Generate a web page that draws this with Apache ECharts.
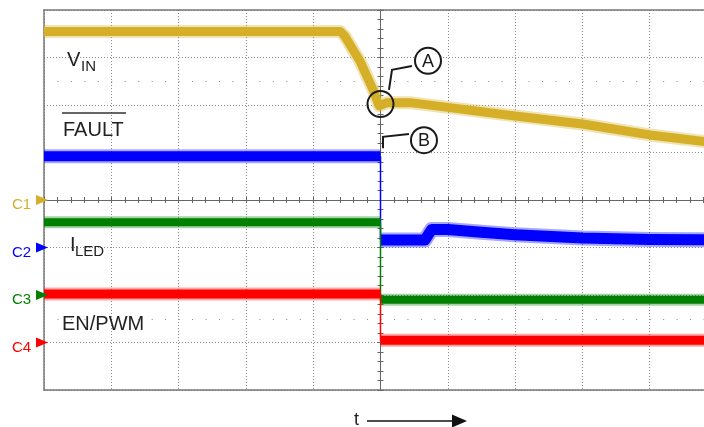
<!DOCTYPE html>
<html><head><meta charset="utf-8">
<script src="https://cdn.jsdelivr.net/npm/echarts@6/dist/echarts.min.js"></script>
<style>html,body{margin:0;padding:0;background:#fff}#c{width:704px;height:427px}</style>
</head><body><div id="c"></div>
<script>
// Time in divisions (center = 0), amplitude in divisions (center = 0)
const vinTrace = [[-5,3.55],[-0.6,3.55],[-0.53,3.45],[-0.3,2.91],[-0.11,2.32],[-0.02,1.98],[0.1,2.05],[0.44,2.05],[1,1.95],[2,1.77],[3,1.6],[4,1.37],[5,1.2]];
const faultBefore = [[-5,0.92],[0,0.92]];
const faultEdge = [[0,0.92],[0,-0.84]];
const faultAfter = [[0,-0.84],[0.66,-0.84],[0.76,-0.62],[1,-0.62],[1.5,-0.68],[2,-0.73],[3,-0.8],[4,-0.83],[5,-0.84]];
const ledBefore = [[-5,-0.47],[0,-0.47]];
const ledEdge = [[0,-0.47],[0,-2.1]];
const ledAfter = [[0,-2.1],[5,-2.1]];
const enBefore = [[-5,-1.98],[0,-1.98]];
const enEdge = [[0,-1.98],[0,-2.95]];
const enAfter = [[0,-2.95],[5,-2.95]];
const channelNames = ['C1','C2','C3','C4'];
const channelLevels = [0,-1,-2,-3];
const channelColors = ['#D4AF27','#0000FF','#008000','#FF0000'];
const midRows = [2.5,-2.5];
const xMin = -5, xMax = 4.807; // the screen capture is cut at the right edge

const chart = echarts.init(document.getElementById('c'));
const tickStyle = {color:'#666', width:1};
const frameStyle = {color:'#777', width:1.5};
function trace(name, data, color, w, layer) {
  return [
    {type:'line', name:name+'_fuzz', data:data, showSymbol:false, symbol:'none', silent:true, animation:false,
     lineStyle:{color:color, width:w+4, opacity:0.35, cap:'butt', join:'round'}, z:3+layer},
    {type:'line', name:name, data:data, showSymbol:false, symbol:'none', silent:true, animation:false,
     lineStyle:{color:color, width:w, cap:'butt', join:'round'}, z:3+layer}
  ];
}
function edge(data, color, layer) {
  return {type:'line', data:data, showSymbol:false, symbol:'none', silent:true, animation:false,
    lineStyle:{color:color, width:1.5}, z:3+layer};
}
const series = [].concat(
  [{type:'line', data:[], silent:true, animation:false, z:1,
    markLine:{silent:true, symbol:'none', animation:false, label:{show:false},
      lineStyle:{color:'#888', type:[1,12.46], width:1},
      data: midRows.map(v=>({yAxis:v}))}}],
  trace('VIN', vinTrace, channelColors[0], 9, 0),
  trace('FAULT1', faultBefore, channelColors[1], 10, 1),
  [edge(faultEdge, channelColors[1], 1)],
  trace('FAULT2', faultAfter, channelColors[1], 11, 1),
  trace('ILED1', ledBefore, channelColors[2], 8, 2),
  [edge(ledEdge, channelColors[2], 2)],
  trace('ILED2', ledAfter, channelColors[2], 8, 2),
  trace('EN1', enBefore, channelColors[3], 9, 3),
  [edge(enEdge, channelColors[3], 3)],
  trace('EN2', enAfter, channelColors[3], 9, 3)
);
const centerAxis = (pos, min, max) => ({type:'value', min:min, max:max, interval:1, position:pos,
  axisLine:{show:true, onZero:true, lineStyle:tickStyle},
  axisTick:{show:true, length:3, lineStyle:tickStyle},
  minorTick:{show:true, splitNumber:5, length:3, lineStyle:tickStyle},
  axisLabel:{show:false}, splitLine:{show:false}});
const frameAxis = (pos, min, max) => ({type:'value', min:min, max:max, interval:1, position:pos,
  axisLine:{show:true, onZero:false, lineStyle:frameStyle},
  axisTick:{show:false}, axisLabel:{show:false}, splitLine:{show:false}});
const gridSplit = {show:true, lineStyle:{color:'#8a8a8a', type:[1,2], width:1}};
const x0 = centerAxis('bottom', xMin, xMax); x0.splitLine = gridSplit;
const y0 = centerAxis('left', -4, 4); y0.splitLine = gridSplit;
chart.setOption({
  animation:false,
  grid:{left:44, right:0, top:10, bottom:37, show:false},
  xAxis:[x0, centerAxis('top', xMin, xMax), frameAxis('top', xMin, xMax), frameAxis('bottom', xMin, xMax)],
  yAxis:[y0, centerAxis('right', -4, 4), frameAxis('left', -4, 4)],
  series: series
});

const cp = (p) => chart.convertToPixel({gridIndex:0}, p);
const font = (s) => s + 'px "Liberation Sans", Arial, sans-serif';
const txtColor = '#222';
const g = [];
function text(t, x, y, size, color) {
  g.push({type:'text', silent:true, z:100, style:{text:t, x:x, y:y, font:font(size), fill:color||txtColor, align:'left', verticalAlign:'middle'}});
}
// channel markers
channelNames.forEach((n,i)=>{
  const p = cp([xMin, channelLevels[i]]);
  g.push({type:'polygon', silent:true, z:100, shape:{points:[[p[0]+4,p[1]],[p[0]-8,p[1]-5],[p[0]-8,p[1]+5]]}, style:{fill:channelColors[i]}});
  text(n, 12, p[1]+5, 15, channelColors[i]);
});
// trace labels
text('V', 67, 60, 20); text('IN', 81, 67, 15);
text('FAULT', 63, 130, 20);
g.push({type:'line', silent:true, z:100, shape:{x1:62,y1:113,x2:126,y2:113}, style:{stroke:'#333', lineWidth:1.5}});
text('I', 70, 245, 20); text('LED', 75, 252, 15);
text('EN/PWM', 62, 324, 20);
// time arrow
text('t', 354, 420, 18);
g.push({type:'line', silent:true, z:100, shape:{x1:367,y1:421,x2:454,y2:421}, style:{stroke:'#111', lineWidth:1.5}});
g.push({type:'polygon', silent:true, z:100, shape:{points:[[452,414.5],[467,421],[452,427.5]]}, style:{fill:'#111'}});
// callouts anchored to data positions
const callouts = [
  {letter:'A', center:[0.706,2.93], leader:[[0.468,2.82],[0.171,2.74],[0.126,2.32]], ring:[0,2.02]},
  {letter:'B', center:[0.646,1.26], leader:[[0.423,1.39],[0.037,1.33],[0.037,1.09]]}
];
callouts.forEach(c=>{
  const pts = c.leader.map(cp);
  g.push({type:'polyline', silent:true, z:100, shape:{points:pts}, style:{stroke:'#1a1a1a', lineWidth:2, fill:null}});
  if (c.ring) { const r = cp(c.ring); g.push({type:'circle', silent:true, z:100, shape:{cx:r[0], cy:r[1], r:13}, style:{fill:null, stroke:'#1a1a1a', lineWidth:2}}); }
  const q = cp(c.center);
  g.push({type:'circle', silent:true, z:100, shape:{cx:q[0], cy:q[1], r:13}, style:{fill:'#fff', stroke:'#1a1a1a', lineWidth:2}});
  g.push({type:'text', silent:true, z:101, style:{text:c.letter, x:q[0], y:q[1]+1, font:font(18), fill:'#1a1a1a', align:'center', verticalAlign:'middle'}});
});
chart.setOption({graphic:g});
</script></body></html>
